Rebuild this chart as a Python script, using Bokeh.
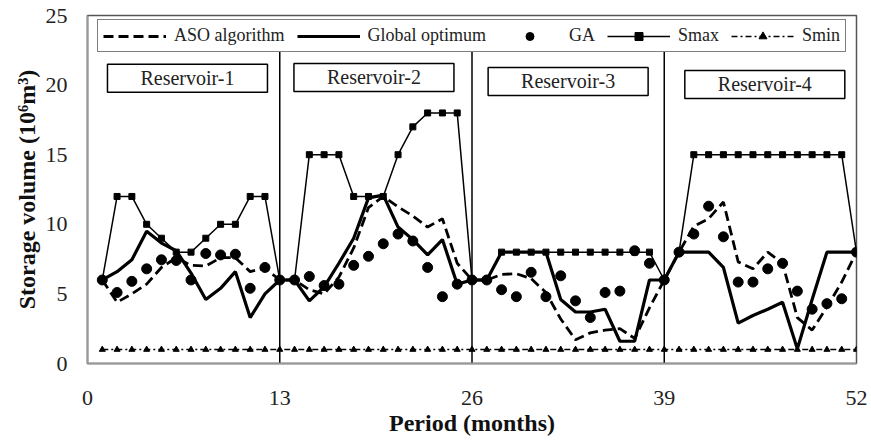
from bokeh.plotting import figure
from bokeh.models import Range1d, FixedTicker, ColumnDataSource
from bokeh.core.properties import value
from bokeh.embed import file_html
from bokeh.resources import INLINE

# ---------------- data ----------------
months = list(range(1, 53))

aso = [6, 4.4, 5.0, 5.7, 6.9, 7.6, 7.05, 7.0, 7.6, 7.6, 6.6, 6.85, 6.0,
       6, 5.3, 5.0, 6.2, 8.3, 11.2, 12.0, 11.25, 10.6, 9.8, 10.4, 7.2, 6.0,
       6, 6.4, 6.45, 6.1, 5.1, 3.2, 1.7, 2.2, 2.4, 2.5, 1.8, 4.0, 6.0,
       8, 9.85, 10.4, 11.6, 7.3, 6.8, 8.0, 7.2, 3.3, 2.4, 4.05, 5.85, 8.0]

global_opt = [6, 6.6, 7.45, 9.5, 8.65, 8.1, 6.5, 4.6, 5.4, 6.6, 3.3, 5.0, 6.0,
              6, 4.5, 5.5, 7.2, 9.0, 11.9, 12.1, 9.8, 8.9, 7.8, 8.9, 5.7, 6.0,
              6, 8, 8, 8, 8, 4.6, 3.7, 3.7, 3.9, 1.6, 1.6, 6, 6,
              8, 8, 8, 6.9, 2.9, 3.45, 3.9, 4.4, 1.05, 4.6, 8, 8, 8]

ga = [6, 5.1, 5.9, 6.8, 7.45, 7.4, 6.0, 7.9, 7.8, 7.85, 5.4, 6.9, 6.0,
      6, 6.25, 5.6, 5.7, 7.05, 7.7, 8.6, 9.3, 8.8, 6.9, 4.8, 5.7, 6.0,
      6, 5.3, 4.8, 6.55, 4.8, 6.3, 4.5, 3.3, 5.1, 5.2, 8.1, 7.2, 6.0,
      8, 9.3, 11.3, 9.1, 5.85, 5.85, 6.8, 7.2, 5.2, 3.9, 4.3, 4.65, 8.0]

smax = [6, 12, 12, 10, 9, 8, 8, 9, 10, 10, 12, 12, 6,
        6, 15, 15, 15, 12, 12, 12, 15, 17, 18, 18, 18, 6,
        6, 8, 8, 8, 8, 8, 8, 8, 8, 8, 8, 8, 6,
        8, 15, 15, 15, 15, 15, 15, 15, 15, 15, 15, 15, 8]

smin = [1] * 52

x_ticks = [0, 13, 26, 39, 52]
y_ticks = [0, 5, 10, 15, 20, 25]
boundaries = [13, 26, 39]
reservoir_names = ["Reservoir-1", "Reservoir-2", "Reservoir-3", "Reservoir-4"]

# ---------------- layout (positions of annotations) ----------------
name_x = [6.76, 19.37, 32.5, 45.8]
name_y = [20.5, 20.55, 20.26, 20.05]
sep_top = 22.4

SERIF = "Liberation Serif"

src = ColumnDataSource(dict(x=months, aso=aso, glob=global_opt, ga=ga, smax=smax, smin=smin))

p = figure(width=871, height=444, output_backend="svg", toolbar_location=None,
           x_range=Range1d(0, 52), y_range=Range1d(0, 25),
           min_border_left=87, min_border_right=15, min_border_top=15, min_border_bottom=81)
p.grid.visible = False
p.background_fill_color = "white"
p.border_fill_color = "white"
p.outline_line_color = "#555555"
p.outline_line_width = 1.5

# separators
p.segment(x0=boundaries, y0=[0] * 3, x1=boundaries, y1=[sep_top] * 3,
          line_color="black", line_width=1.5)

# series
p.line("x", "smin", source=src, line_color="black", line_width=1.5,
       line_dash="6 3 2 3", legend_label="Smin")
p.scatter("x", "smin", source=src, marker="triangle", size=6, color="black",
          legend_label="Smin")
p.line("x", "smax", source=src, line_color="black", line_width=1.5, legend_label="Smax")
p.scatter("x", "smax", source=src, marker="square", size=6, color="black",
          legend_label="Smax")
p.line("x", "glob", source=src, line_color="black", line_width=3.2,
       legend_label="Global optimum")
p.line("x", "aso", source=src, line_color="black", line_width=2.8,
       line_dash="10 5", legend_label="ASO algorithm")
p.scatter("x", "ga", source=src, marker="circle", size=10, color="black",
          legend_label="GA")

# reservoir name boxes
box_src = ColumnDataSource(dict(x=name_x, y=name_y, t=reservoir_names))
p.rect("x", "y", width=160, height=28, width_units="screen", height_units="screen",
       source=box_src, fill_color="white", line_color="black", line_width=1.5)
p.text("x", "y", text="t", source=box_src, text_align="center", text_baseline="middle",
       text_font=value(SERIF), text_font_size="20px", text_color="#222222")

# axes
for ax in (p.xaxis[0], p.yaxis[0]):
    ax.major_tick_in = 0
    ax.major_tick_out = 0
    ax.minor_tick_in = 0
    ax.minor_tick_out = 0
    ax.axis_line_color = "#999999"
    ax.axis_line_width = 2
    ax.major_label_text_font = SERIF
    ax.major_label_text_font_size = "22px"
    ax.major_label_text_color = "#222222"
    ax.axis_label_text_font = SERIF
    ax.axis_label_text_font_size = "24px"
    ax.axis_label_text_font_style = "bold"
    ax.axis_label_text_color = "#111111"

p.xaxis.ticker = FixedTicker(ticks=x_ticks)
p.yaxis.ticker = FixedTicker(ticks=y_ticks)
p.xaxis.axis_label = "Period (months)"
p.yaxis.axis_label = "Storage volume (10\u2076m\u00b3)"
p.xaxis.major_label_standoff = 27
p.xaxis.axis_label_standoff = 2
p.yaxis.major_label_standoff = 20
p.yaxis.axis_label_standoff = 3

# legend
lg = p.legend[0]
order = ["ASO algorithm", "Global optimum", "GA", "Smax", "Smin"]
lg.items = sorted(lg.items, key=lambda it: order.index(it.label.value))
lg.orientation = "horizontal"
lg.location = (10, 311)
lg.label_text_font = SERIF
lg.label_text_font_size = "18px"
lg.label_text_color = "#222222"
lg.label_standoff = 8
lg.glyph_width = 63
lg.glyph_height = 20
lg.label_height = 20
lg.spacing = 12
lg.padding = 5
lg.margin = 0
lg.border_line_color = "black"
lg.border_line_width = 1.5
lg.background_fill_alpha = 1.0

open("out.html", "w").write(file_html(p, INLINE))
